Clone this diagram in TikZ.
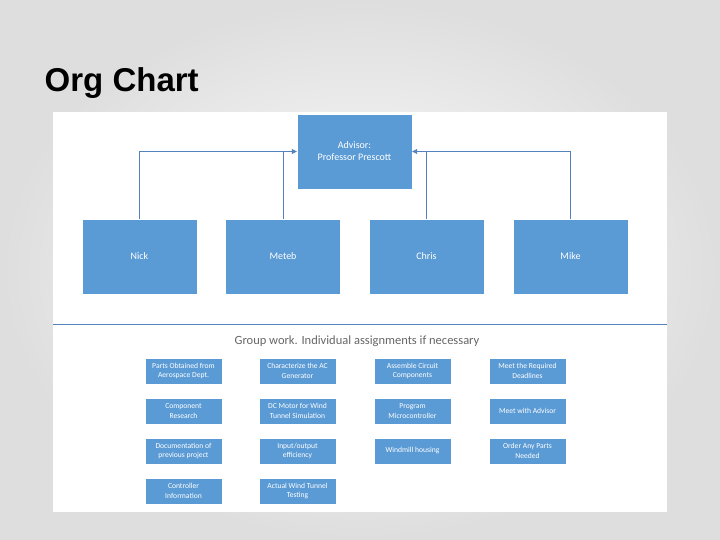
\documentclass[tikz,border=0pt]{standalone}
\usepackage{fontspec}
\setmainfont{Carlito}
\newfontfamily\titlefont{Liberation Sans}
\usetikzlibrary{arrows.meta}
\definecolor{boxblue}{RGB}{91,155,213}
\definecolor{linkblue}{RGB}{84,130,190}
\tikzset{
  every picture/.style={line width=0.75pt},
  member/.style={fill=boxblue, draw=white, line width=0.4pt, minimum width=115pt, minimum height=75pt, text=white, font=\fontsize{10}{12}\selectfont, align=center, inner sep=0pt},
  task/.style={fill=boxblue, draw=white, line width=0.3pt, minimum width=77pt, minimum height=26pt, text=white, font=\fontsize{7.6}{9.5}\selectfont, align=center, inner sep=1pt},
  link/.style={draw=linkblue, line width=0.6pt},
}
\begin{document}
\begin{tikzpicture}[x=1pt,y=1pt,yscale=-1,xscale=1]
\useasboundingbox (0,0) rectangle (720,540);
%background
\fill[black!13] (0,0) rectangle (720,540);
\shade[inner color=white, outer color=black!13] (0,0) rectangle (720,540);
\fill[white] (53,112) rectangle (667,512);
% Title
\node[anchor=west, font=\titlefont\bfseries\fontsize{33}{38}\selectfont] (title) at (41,83) {Org Chart};

% Advisor and members
\node[member] (adv) at (354.5,151.5) {Advisor:\\Professor Prescott};
\node[member] (nick) at (139.5,256.5) {Nick};
\node[member] (meteb) at (283,256.5) {Meteb};
\node[member] (chris) at (426.5,256.5) {Chris};
\node[member] (mike) at (570.5,256.5) {Mike};

% Connectors
\draw[link, -{Triangle[length=5pt,width=5pt]}] (nick.north) |- (adv.west);
\draw[link] (meteb.north) -- (meteb.north |- adv.west);
\draw[link, -{Triangle[length=5pt,width=5pt]}] (mike.north) |- (adv.east);
\draw[link] (chris.north) -- (chris.north |- adv.east);

% Separator
\coordinate (sepl) at (53,324);
\coordinate (sepr) at (667,324);
\draw[link, line width=0.8pt] (sepl) -- (sepr);
\node[text=black!60, font=\fontsize{12.5}{14}\selectfont] (group) at (357,341) {Group work. Individual assignments if necessary};

% Tasks
\node[task] (t11) at (183.5,371) {Parts Obtained from\\Aerospace Dept.};
\node[task] (t12) at (297.5,371) {Characterize the AC\\Generator};
\node[task] (t13) at (412.5,371) {Assemble Circuit\\Components};
\node[task] (t14) at (527.5,371) {Meet the Required\\Deadlines};
\node[task] (t21) at (183.5,411) {Component\\Research};
\node[task] (t22) at (297.5,411) {DC Motor for Wind\\Tunnel Simulation};
\node[task] (t23) at (412.5,411) {Program\\Microcontroller};
\node[task] (t24) at (527.5,411) {Meet with Advisor};
\node[task] (t31) at (183.5,451) {Documentation of\\previous project};
\node[task] (t32) at (297.5,451) {Input/output\\efficiency};
\node[task] (t33) at (412.5,451) {Windmill housing};
\node[task] (t34) at (527.5,451) {Order Any Parts\\Needed};
\node[task] (t41) at (183.5,491) {Controller\\Information};
\node[task] (t42) at (297.5,491) {Actual Wind Tunnel\\Testing};

\end{tikzpicture}
\end{document}
